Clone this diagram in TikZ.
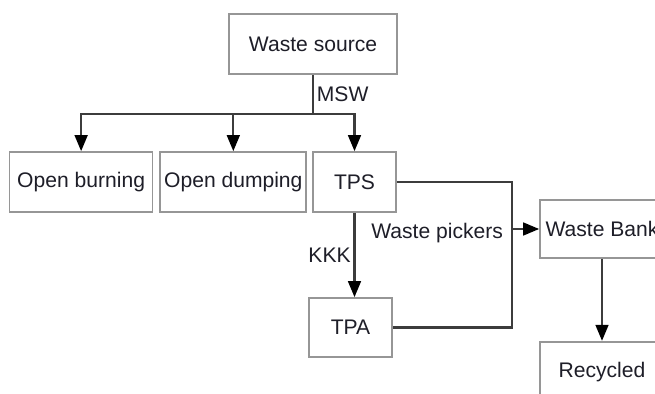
\documentclass[tikz,border=0pt]{standalone}
\usepackage{fontspec}
\setmainfont{Liberation Sans}
\usetikzlibrary{positioning,arrows.meta,calc}
\definecolor{LineGray}{RGB}{60,60,60}
\definecolor{FrameGray}{RGB}{150,150,150}
\definecolor{InkDark}{RGB}{30,30,40}
\tikzset{
  flow/.style={-{Triangle[length=4mm,width=3.2mm,color=black]},line width=1.5pt,draw=LineGray},
  link/.style={line width=1.5pt,draw=LineGray},
  box/.style={draw=FrameGray,line width=1.2pt,fill=white,
    minimum height=1.5cm,align=center,inner sep=2pt,
    font=\fontsize{15}{17}\selectfont,text=InkDark},
  tag/.style={font=\fontsize{15}{17}\selectfont,text=InkDark,inner sep=2pt}
}
\begin{document}
\begin{tikzpicture}
  \useasboundingbox (0,0) rectangle (16.375,-9.85);
  \clip (0,0) rectangle (16.375,-9.85);
  \node[box,minimum width=4.2cm] (src) at (7.825,-1.1) {Waste source};
  \node[box,minimum width=2.075cm] (tps) at (8.8625,-4.55) {TPS};
  \node[box,left=0.125cm of tps,minimum width=3.65cm] (dump) {Open dumping};
  \node[box,left=0.15cm of dump,minimum width=3.575cm] (burn) {Open burning};
  \node[box,minimum width=2.075cm,minimum height=1.475cm] (tpa) at (8.7625,-8.1875) {TPA};
  \node[box,minimum width=3.1cm,minimum height=1.45cm] (bank) at (15.05,-5.725) {Waste Bank};
  \node[box,below=2.05cm of bank,minimum width=3.1cm] (recycled) {Recycled};
  % MSW split
  \coordinate[below=0.975cm of src] (split);
  \draw[link] (src) -- (split) node[tag,midway,right] (msw) {MSW};
  \draw[flow] (split) -| (burn);
  \draw[flow] (split) -| (dump);
  \draw[flow] (split) -| (tps);
  % TPS to TPA
  \draw[flow] (tps) -- (tps |- tpa.north) node[tag,midway,left] (kkk) {KKK};
  % waste pickers to bank
  \coordinate (join) at (12.8,-5.725);
  \draw[link] (tps.east) -| (join) |- (tpa.east);
  \node[tag,left=0.15cm of join,yshift=-0.1cm] (pickers) {Waste pickers};
  \draw[flow] (join) -- (bank);
  \draw[flow] (bank) -- (recycled);
\end{tikzpicture}
\end{document}
